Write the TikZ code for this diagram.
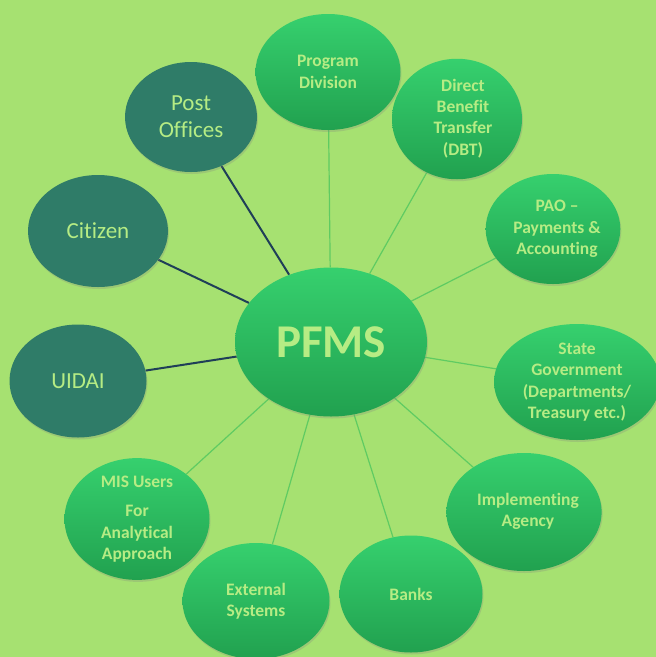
\documentclass[tikz,border=0pt]{standalone}
\usepackage{fontspec}
\setmainfont{Carlito}[Ligatures=NoCommon]
\usetikzlibrary{shapes.geometric,backgrounds,shadows}
\definecolor{bg}{HTML}{A6E171}
\definecolor{gtop}{HTML}{36D06E}
\definecolor{gbot}{HTML}{21A14F}
\definecolor{teal}{HTML}{2F7C68}
\definecolor{txt}{HTML}{B6EC84}
\definecolor{thin}{HTML}{5FCB62}
\definecolor{navy}{HTML}{1F3F58}
\newcommand\shiftedtext[2]{\hspace*{#1}\begin{tabular}{@{}c@{}}#2\end{tabular}}
\tikzset{
  gnode/.style={ellipse, inner sep=0pt, top color=gtop, bottom color=gbot, draw=none,
    text=txt, font=\bfseries\fontsize{17.5}{21.3}\selectfont, align=center,
    drop shadow={shadow xshift=1pt, shadow yshift=-2pt, opacity=0.25}},
  tnode/.style={ellipse, inner sep=0pt, fill=teal, draw=none,
    text=txt, font=\fontsize{23}{27}\selectfont, align=center,
    drop shadow={shadow xshift=1pt, shadow yshift=-2pt, opacity=0.25}},
  gline/.style={draw=thin, line width=1.2pt},
  tline/.style={draw=navy, line width=2pt},
}
\begin{document}
\begin{tikzpicture}[x=1pt,y=-1pt]
\useasboundingbox (0,0) rectangle (656,657);
\node[gnode, minimum width=192pt, minimum height=149pt, font=\bfseries\fontsize{47}{48}\selectfont] (pfms) at (331,342) {PFMS};
\node[gnode, minimum width=145pt, minimum height=116pt] (prog) at (328,72) {Program\\Division};
\node[gnode, minimum width=130pt, minimum height=113pt] (dbt) at (457,119) {\shiftedtext{12pt}{Direct\\Benefit\\Transfer\\(DBT)}};
\node[gnode, minimum width=127pt, minimum height=110pt] (pao) at (553,229) {\shiftedtext{8pt}{PAO –\\Payments \&\\Accounting}};
\node[gnode, minimum width=166pt, minimum height=116pt] (state) at (577,382) {State\\Government\\(Departments/\\Treasury etc.)};
\node[gnode, minimum width=148pt, minimum height=118pt] (impl) at (524,512) {\shiftedtext{8pt}{Implementing\\Agency}};
\node[gnode, minimum width=143pt, minimum height=117pt] (banks) at (411,594) {Banks};
\node[gnode, minimum width=147pt, minimum height=116pt] (ext) at (256,601) {External\\Systems};
\node[gnode, minimum width=145pt, minimum height=115pt] (mis) at (137,519) {MIS Users\\[8pt]For\\Analytical\\Approach};
\node[tnode, minimum width=137pt, minimum height=113pt] (uidai) at (78,381) {UIDAI};
\node[tnode, minimum width=140pt, minimum height=112pt] (cit) at (98,231) {Citizen};
\node[tnode, minimum width=132pt, minimum height=110pt] (post) at (191,117) {Post\\Offices};
\begin{scope}[on background layer]
\fill[bg] (0,0) rectangle (656,657);
\draw[gline] (pfms) -- (prog);
\draw[gline] (pfms) -- (dbt);
\draw[gline] (pfms) -- (pao);
\draw[gline] (pfms) -- (state);
\draw[gline] (pfms) -- (impl);
\draw[gline] (pfms) -- (banks);
\draw[gline] (pfms) -- (ext);
\draw[gline] (pfms) -- (mis);
\draw[tline] (pfms) -- (uidai);
\draw[tline] (pfms) -- (cit);
\draw[tline] (pfms) -- (post);
\end{scope}
\end{tikzpicture}
\end{document}
